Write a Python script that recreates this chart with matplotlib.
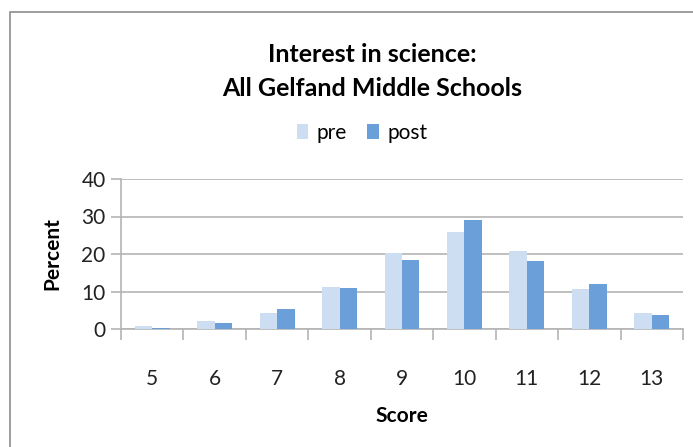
import numpy as np
import matplotlib.pyplot as plt
from matplotlib.patches import Rectangle

scores = ["5", "6", "7", "8", "9", "10", "11", "12", "13"]
pre = [0.8, 2.1, 4.2, 11.2, 20.4, 25.8, 20.9, 10.6, 4.3]
post = [0.35, 1.6, 5.3, 11.0, 18.5, 29.2, 18.1, 12.0, 3.7]

pre_color = "#CDDEF2"
post_color = "#6A9FDA"
grid_color = "#B4B4B4"

plt.rcParams['font.family'] = ['Lato', 'DejaVu Sans']

fig = plt.figure(figsize=(6.93, 4.47), dpi=100)
W, H = 693, 447

# chart frame
fig.patches.append(Rectangle((10 / W, -0.1), 1.0, (H - 12) / H + 0.1,
                             transform=fig.transFigure, fill=False,
                             edgecolor="#8C8C8C", linewidth=1.2))

ax = fig.add_axes([121 / W, (H - 329) / H, (683 - 121) / W, (329 - 179) / H])
x = np.arange(len(scores))
w = 0.28
ax.bar(x - w / 2, pre, w, color=pre_color, label="pre", zorder=3)
ax.bar(x + w / 2, post, w, color=post_color, label="post", zorder=3)

ax.set_xlim(-0.5, len(scores) - 0.5)
ax.set_ylim(0, 40)
ax.set_yticks([0, 10, 20, 30, 40])
ax.yaxis.grid(True, color=grid_color, linewidth=1.2, zorder=0)
ax.set_axisbelow(True)

for s in ["top", "right"]:
    ax.spines[s].set_visible(False)
ax.spines["left"].set_color(grid_color)
ax.spines["bottom"].set_color(grid_color)
ax.spines["left"].set_linewidth(1.2)
ax.spines["bottom"].set_linewidth(1.2)

# category ticks sit on the group boundaries, labels in the middle
ax.set_xticks(np.arange(len(scores) + 1) - 0.5)
ax.set_xticklabels([])
ax.set_xticks(x, minor=True)
ax.set_xticklabels(scores, minor=True)
ax.tick_params(axis="x", which="major", length=8, color=grid_color, width=1.2)
ax.tick_params(axis="x", which="minor", length=0, pad=29, labelsize=15, labelcolor="#222222")
ax.tick_params(axis="y", length=7, color=grid_color, width=1.2, labelsize=15,
               labelcolor="#222222", pad=4)

ax.set_ylabel("Percent", fontsize=15, fontweight="bold", labelpad=14)
ax.set_xlabel("Score", fontsize=15, fontweight="bold", labelpad=12)

fig.text(372 / W, 1 - 55 / H, "Interest in science:", ha="center", va="center",
         fontsize=18, fontweight="bold")
fig.text(372 / W, 1 - 89 / H, "All Gelfand Middle Schools", ha="center", va="center",
         fontsize=18, fontweight="bold")

fig.legend(loc="center", bbox_to_anchor=(362 / W, 1 - 133 / H), ncol=2,
           frameon=False, fontsize=15, handlelength=0.55, handleheight=0.7,
           handletextpad=0.4, columnspacing=1.0)

fig.savefig("out.png", dpi=100)
